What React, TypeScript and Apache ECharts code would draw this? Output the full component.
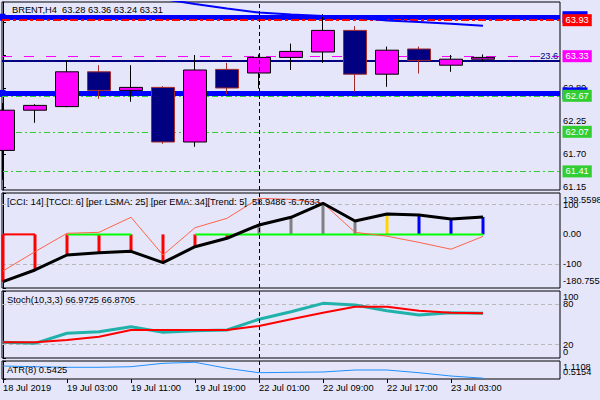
import React, { useEffect, useRef } from 'react';
import * as echarts from 'echarts';

// ---------- data ----------
const categories = [
  '18 Jul 2019', '18 Jul 23:00', '19 Jul 03:00', '19 Jul 07:00', '19 Jul 11:00', '19 Jul 15:00',
  '19 Jul 19:00', '19 Jul 23:00', '22 Jul 01:00', '22 Jul 05:00', '22 Jul 09:00', '22 Jul 13:00',
  '22 Jul 17:00', '22 Jul 21:00', '23 Jul 03:00', '23 Jul 07:00',
];
const openPrices = [61.76, 62.43, 62.49, 63.07, 62.76, 62.81, 61.9, 63.11, 63.05, 63.31, 63.4, 63.76, 63.03, 63.45, 63.18, 63.28];
const highPrices = [62.55, 62.53, 63.26, 63.18, 63.18, 62.83, 63.35, 63.22, 63.36, 63.54, 64.03, 63.83, 63.49, 63.49, 63.35, 63.36];
const lowPrices = [61.27, 62.22, 62.48, 62.62, 62.57, 61.87, 61.82, 62.7, 62.79, 63.1, 63.22, 62.74, 62.82, 63.04, 63.07, 63.24];
const closePrices = [62.43, 62.51, 63.07, 62.76, 62.81, 61.9, 63.1, 62.8, 63.31, 63.41, 63.76, 63.03, 63.43, 63.26, 63.28, 63.31];
const blueTrend = [null, null, null, null, null, 64.283, 64.2, 64.125, 64.058, 64.025, 64.0, 63.975, 63.925, 63.9, 63.87, 63.838];

const channelLevels = [63.978, 62.708];
const resistanceLevel = 63.93;
const fibLevel = 63.33;
const fibLabel = '23.6';
const trendLevel = 63.25;
const supportLevels = [62.67, 62.07, 61.41];
const bidPrice = 63.31;

const cciValues = [-159.5, -120, -69.5, -61.7, -57, -95.4, -41.5, -13, 31.7, 57.7, 104.9, 45, 68.8, 65.4, 52, 58.9486];
const tcciValues = [-123.4, -58.3, 3.7, 7, 57.7, -69.5, 22.6, 54.3, 121.7, 118, 104.9, 7, -6, -27, -50, -6.7633];
const trendColors = ['#FF0000', '#FF0000', '#FF0000', '#FF0000', '#FF0000', '#FF0000', '#FF0000', '#FF0000',
  '#808080', '#808080', '#808080', '#808080', '#FFD700', '#0000FF', '#0000FF', '#0000FF'];
const zeroSegments = ['#FF0000', null, '#00FF00', '#00FF00', null, null, '#00FF00', '#00FF00', '#00FF00',
  '#00FF00', '#00FF00', '#00FF00', '#00FF00', '#00FF00', '#00FF00'];
const cciLevels = [100, -100];

const stochK = [23.4, 21.9, 36.9, 39.3, 46.7, 38.4, 40.7, 41.8, 57.8, 69.1, 81.6, 79.1, 70.6, 64.2, 67.6, 66.9725];
const stochD = [23.4, 23.4, 26.9, 31.8, 41.8, 41.8, 41.8, 41.8, 47.8, 57.8, 67.6, 76.6, 76.6, 70.6, 67.6, 66.8705];
const stochLevels = [80, 20];

const atrValues = [0.945, 0.922, 0.902, 0.902, 0.922, 1.035, 1.068, 0.869, 0.723, 0.737, 0.747, 0.813, 0.813, 0.723, 0.614, 0.5425];

const priceTicks = [61.15, 61.7, 62.25, 62.8, 63.35, 63.9];
const cciRange = [-180.755, 139.5598];
const cciTicks = [100, 0, -100];
const cciTickLabels = ['100', '0.00', '-100'];
const stochRange = [0, 100];
const stochTicks = [80, 20];
const atrRange = [0.5154, 1.1108];
const separatorIndex = 8;

// ---------- styles ----------
const FONT = "'Liberation Sans', Arial, Helvetica, sans-serif";
const FS = 9.3;
const BG = '#E6E6FA';
const X_MIN = -1 / 32;
const X_MAX = X_MIN + 558 / 32;
const labelIdx = categories.map((_, i) => i).filter((i) => i % 2 === 0);

const txt = { color: '#000', fontSize: FS, fontFamily: FONT };
const rich = {
  t6: { ...txt, padding: [12, 0, 0, 0] },
  t7: { ...txt, padding: [14, 0, 0, 0] },
  b6: { ...txt, padding: [0, 0, 12, 0] },
  b7: { ...txt, padding: [0, 0, 14, 0] },
};

// main axis of a panel: axis line, ticks and ordinary labels
function makeYAxis(gi: number, min: number, max: number, ticks: number[], labels: string[], labelTicks: number[]) {
  return {
    type: 'value', gridIndex: gi, position: 'right', min, max,
    axisLine: { show: true, lineStyle: { color: '#000', width: 1 } },
    splitLine: { show: false },
    axisTick: { show: true, customValues: ticks, length: 3, lineStyle: { color: '#000' } },
    axisLabel: {
      show: labelTicks.length > 0, customValues: labelTicks, margin: 3, hideOverlap: false,
      showMinLabel: true, showMaxLabel: true, ...txt,
      formatter: (v: number) => {
        const k = labelTicks.findIndex((t) => Math.abs(t - v) < 1e-6);
        return k >= 0 ? labels[k] : String(v);
      },
    },
  };
}

// an overlaid axis carrying one end label (min or max), drawn inside the panel like the terminal does
function makeEndLabelAxis(gi: number, min: number, max: number, value: number, label: string, shift: string) {
  return {
    type: 'value', gridIndex: gi, position: 'right', min, max,
    axisLine: { show: false }, splitLine: { show: false }, axisTick: { show: false },
    axisLabel: {
      show: true, customValues: [value], margin: 3, hideOverlap: false,
      showMinLabel: true, showMaxLabel: true, ...txt, rich,
      formatter: () => `{${shift}|${label}}`,
    },
  };
}

function makeXAxis(gi: number) {
  const bottom = gi === 3;
  return {
    type: 'value', gridIndex: gi, min: X_MIN, max: X_MAX,
    axisLine: { show: false }, splitLine: { show: false },
    axisTick: bottom ? { show: true, customValues: labelIdx, length: 4, lineStyle: { color: '#000' } } : { show: false },
    axisLabel: bottom ? {
      show: true, customValues: labelIdx, align: 'left', margin: 4, hideOverlap: false,
      showMinLabel: true, showMaxLabel: true, ...txt,
      formatter: (v: number) => categories[Math.round(v)],
    } : { show: false },
  };
}

const priceLabel = (bg: string) => ({
  show: true, position: 'end', distance: 2.5, backgroundColor: bg, color: '#fff',
  padding: [1, 3, 0, 3], lineHeight: 11, fontSize: FS, fontFamily: FONT,
  formatter: (p: any) => Number(p.value).toFixed(2),
});
// price tag mostly hidden behind another tag: only its coloured edge shows
const hiddenTag = (bg: string) => ({
  show: true, position: 'end', distance: 2.5, backgroundColor: bg, color: bg,
  width: 25, height: 12, padding: 0, fontSize: FS, fontFamily: FONT,
  formatter: () => ' ',
});

const levelLines = [
  ...channelLevels.map((v) => ({
    yAxis: v, symbol: ['rect', 'rect'], symbolSize: 7,
    lineStyle: { color: '#0000FF', width: 5, type: 'solid' }, label: hiddenTag('#0000FF'),
  })),
  { yAxis: bidPrice, lineStyle: { opacity: 0, width: 0 }, label: hiddenTag('#000000') },
  { yAxis: trendLevel, lineStyle: { color: '#000080', width: 2, type: 'solid' }, label: { show: false } },
  { yAxis: fibLevel, lineStyle: { color: '#FF00FF', width: 1, type: [10, 12] }, label: priceLabel('#FF00FF') },
  { yAxis: resistanceLevel, lineStyle: { color: '#FF0000', width: 2, type: [8, 3, 3, 3] }, label: priceLabel('#FF0000') },
  ...supportLevels.map((v) => ({
    yAxis: v, lineStyle: { color: '#32CD32', width: 1, type: [6, 3, 2, 3] }, label: priceLabel('#32CD32'),
  })),
];

const separator = {
  silent: true, symbol: 'none', z: 5, animation: false,
  lineStyle: { color: '#000', type: [4, 3], width: 1 }, label: { show: false },
  data: [{ xAxis: separatorIndex }],
};

const dashedLevels = (levels: number[]) => ({
  silent: true, symbol: 'none', z: 1, animation: false,
  lineStyle: { color: '#B8B8B8', type: [4, 3], width: 1 }, label: { show: false },
  data: levels.map((v) => ({ yAxis: v })),
});

const zeroLineSeries = ['#FF0000', '#00FF00'].map((col) => ({
  type: 'line', xAxisIndex: 1, yAxisIndex: 1, z: 3, symbol: 'none', silent: true,
  lineStyle: { color: col, width: 2 },
  data: categories.map((_, i) => {
    const on = (i > 0 && zeroSegments[i - 1] === col) || (i < zeroSegments.length && zeroSegments[i] === col);
    return on ? [i, 0] : [i, '-'];
  }),
}));

const option: any = {
  animation: false,
  backgroundColor: BG,
  textStyle: { fontFamily: FONT },
  title: [
    { text: `BRENT,H4  ${openPrices[15].toFixed(2)} ${highPrices[15].toFixed(2)} ${lowPrices[15].toFixed(2)} ${closePrices[15].toFixed(2)}`, left: 12, top: 4 },
    { text: `[CCI: 14] [TCCI: 6] [per LSMA: 25] [per EMA: 34][Trend: 5]  ${cciValues[15].toFixed(4)} ${tcciValues[15].toFixed(4)}`, left: 7, top: 196 },
    { text: `Stoch(10,3,3) ${stochK[15].toFixed(4)} ${stochD[15].toFixed(4)}`, left: 7, top: 294 },
    { text: `ATR(8) ${atrValues[15].toFixed(4)}`, left: 7, top: 364 },
  ].map((t) => ({ ...t, padding: 0, textStyle: { ...txt, fontWeight: 'normal', lineHeight: 12 } })),
  grid: [
    { top: 2, height: 188 },
    { top: 193, height: 95 },
    { top: 291, height: 67 },
    { top: 361, height: 18 },
  ].map((g) => ({ ...g, left: 2, right: 40, show: true, borderColor: '#000', borderWidth: 1, backgroundColor: 'transparent', containLabel: false, outerBoundsMode: 'none' })),
  xAxis: [0, 1, 2, 3].map(makeXAxis),
  yAxis: [
    // 0..3: panel axes
    makeYAxis(0, 61.1, 64.2333, priceTicks, priceTicks.map((v) => v.toFixed(2)), priceTicks),
    makeYAxis(1, cciRange[0], cciRange[1], [cciRange[1], ...cciTicks, cciRange[0]], cciTickLabels, cciTicks),
    makeYAxis(2, stochRange[0], stochRange[1], [stochRange[1], ...stochTicks, stochRange[0]], stochTicks.map(String), stochTicks),
    makeYAxis(3, atrRange[0], atrRange[1], atrRange, [], []),
    // 4..9: end labels
    makeEndLabelAxis(1, cciRange[0], cciRange[1], cciRange[1], cciRange[1].toFixed(4), 't7'),
    makeEndLabelAxis(1, cciRange[0], cciRange[1], cciRange[0], cciRange[0].toFixed(3), 'b7'),
    makeEndLabelAxis(2, stochRange[0], stochRange[1], stochRange[1], String(stochRange[1]), 't6'),
    makeEndLabelAxis(2, stochRange[0], stochRange[1], stochRange[0], String(stochRange[0]), 'b6'),
    makeEndLabelAxis(3, atrRange[0], atrRange[1], atrRange[1], atrRange[1].toFixed(4), 't6'),
    makeEndLabelAxis(3, atrRange[0], atrRange[1], atrRange[0], atrRange[0].toFixed(4), 'b7'),
  ],
  series: [
    {
      type: 'candlestick', xAxisIndex: 0, yAxisIndex: 0, z: 2, barWidth: 23,
      data: categories.map((_, i) => [i, openPrices[i], closePrices[i], lowPrices[i], highPrices[i]]),
      itemStyle: { color: '#FF00FF', color0: '#000080', borderColor: '#000000', borderColor0: '#A52A2A', borderWidth: 1 },
      markLine: { z: 1, silent: true, symbol: 'none', animation: false, data: levelLines },
      markPoint: {
        silent: true, animation: false,
        data: [{
          coord: [17.4, fibLevel], symbol: 'rect', symbolSize: 1, itemStyle: { color: 'transparent' },
          label: { show: true, position: 'left', distance: 1, formatter: fibLabel, color: '#000080', fontSize: FS, fontFamily: FONT },
        }],
      },
    },
    {
      type: 'line', xAxisIndex: 0, yAxisIndex: 0, z: 3, symbol: 'none', clip: true,
      lineStyle: { color: '#0000FF', width: 2 },
      data: blueTrend.map((v, i) => (v == null ? [i, '-'] : [i, v])),
      markLine: separator,
    },
    {
      type: 'bar', xAxisIndex: 1, yAxisIndex: 1, z: 2, barWidth: 3, silent: true,
      data: cciValues.map((v, i) => ({ value: [i, v], itemStyle: { color: trendColors[i] } })),
    },
    ...zeroLineSeries,
    {
      type: 'line', xAxisIndex: 1, yAxisIndex: 1, z: 3, symbol: 'none',
      lineStyle: { color: '#FF6347', width: 1 },
      data: tcciValues.map((v, i) => [i, v]),
      markLine: dashedLevels(cciLevels),
    },
    {
      type: 'line', xAxisIndex: 1, yAxisIndex: 1, z: 4, symbol: 'none',
      lineStyle: { color: '#000000', width: 3 },
      data: cciValues.map((v, i) => [i, v]),
      markLine: separator,
    },
    {
      type: 'line', xAxisIndex: 2, yAxisIndex: 2, z: 3, symbol: 'none',
      lineStyle: { color: '#20B2AA', width: 3 },
      data: stochK.map((v, i) => [i, v]),
      markLine: dashedLevels(stochLevels),
    },
    {
      type: 'line', xAxisIndex: 2, yAxisIndex: 2, z: 4, symbol: 'none',
      lineStyle: { color: '#FF0000', width: 2 },
      data: stochD.map((v, i) => [i, v]),
      markLine: separator,
    },
    {
      type: 'line', xAxisIndex: 3, yAxisIndex: 3, z: 3, symbol: 'none',
      lineStyle: { color: '#1E90FF', width: 1 },
      data: atrValues.map((v, i) => [i, v]),
      markLine: separator,
    },
  ],
};

export default function App() {
  const ref = useRef<HTMLDivElement>(null);
  useEffect(() => {
    const chart = echarts.init(ref.current as HTMLDivElement, null, { renderer: 'svg' });
    chart.setOption(option);
    return () => chart.dispose();
  }, []);
  return (
    <div
      ref={ref}
      style={{ position: 'absolute', left: 0, top: 0, width: 600, height: 400, background: BG }}
    />
  );
}
